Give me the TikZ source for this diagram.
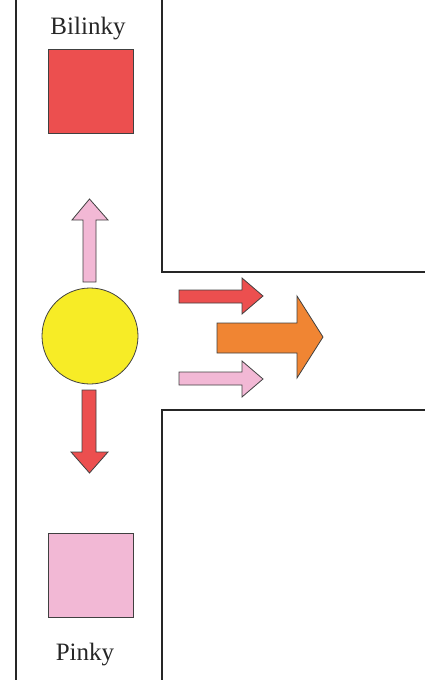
\documentclass[tikz,border=0pt]{standalone}
\usepackage{fontspec}
\setmainfont{Liberation Serif}
\definecolor{cred}{HTML}{EC4F4F}
\definecolor{cpink}{HTML}{F2B8D5}
\definecolor{cyellow}{HTML}{F7EC26}
\definecolor{corange}{HTML}{F08533}
\begin{document}
\begin{tikzpicture}[x=1pt,y=-1pt,
  wall/.style={draw=black!85,line width=1.2pt},
  shp/.style={draw=black!75,line width=0.8pt},
  lbl/.style={font=\fontsize{25}{28}\selectfont,text=black!85,inner sep=0pt}]
\useasboundingbox (0,0) rectangle (425,680);
% walls
\draw[wall] (16,0) -- (16,680);
\draw[wall] (162,0) -- (162,272) -- (425,272);
\draw[wall] (425,410) -- (162,410) -- (162,680);
% squares
\node[shp,fill=cred,minimum width=85pt,minimum height=84pt,inner sep=0pt] (sqr) at (90.5,91) {};
\node[shp,fill=cpink,minimum width=85pt,minimum height=84pt,inner sep=0pt] (sqp) at (90.5,575) {};
\node[lbl] (bil) at (88,29) {Bilinky};
\node[lbl] (pin) at (85,655) {Pinky};
% circle
\node[shp,circle,fill=cyellow,minimum size=96pt,inner sep=0pt] (c) at (90,336) {};
% up pink arrow
\filldraw[shp,fill=cpink] (83,282) -- (83,220) -- (72,220) -- (89.5,199) -- (108,220) -- (96,220) -- (96,282) -- cycle;
% down red arrow
\filldraw[shp,fill=cred] (82,390) -- (82,452) -- (71,452) -- (89.5,473) -- (108,452) -- (96,452) -- (96,390) -- cycle;
% right red arrow
\filldraw[shp,fill=cred] (179,290) -- (242,290) -- (242,278) -- (263,296) -- (242,314) -- (242,303) -- (179,303) -- cycle;
% right pink arrow
\filldraw[shp,fill=cpink] (179,372) -- (242,372) -- (242,361) -- (263,379) -- (242,397) -- (242,385) -- (179,385) -- cycle;
% orange arrow
\filldraw[shp,fill=corange] (217,323) -- (297,323) -- (297,296) -- (323,337) -- (297,378) -- (297,353) -- (217,353) -- cycle;
\end{tikzpicture}
\end{document}
